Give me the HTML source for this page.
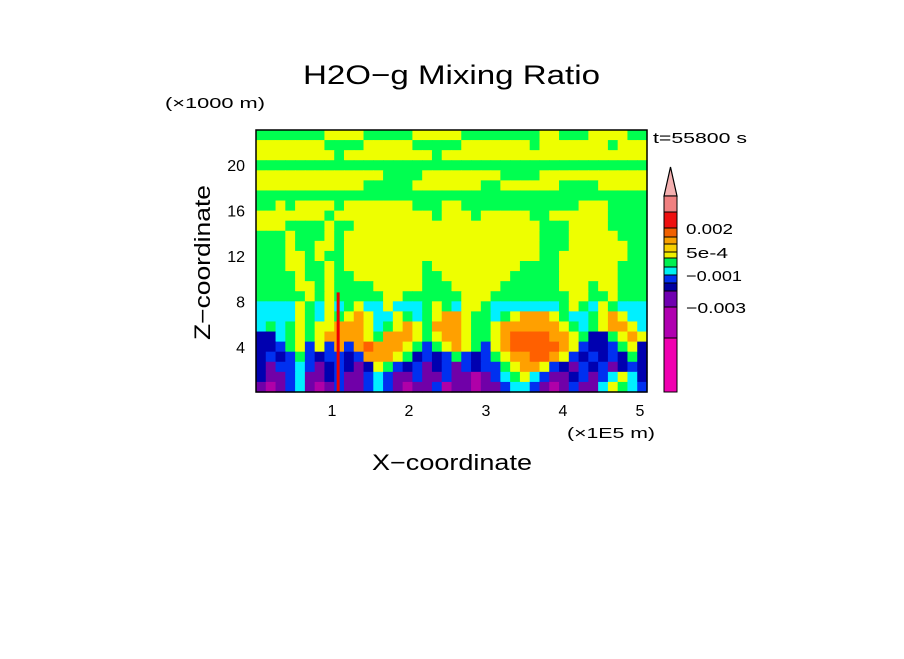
<!DOCTYPE html>
<html><head><meta charset="utf-8"><style>
body{margin:0;background:#fff;width:904px;height:654px;overflow:hidden;font-family:"Liberation Sans",sans-serif}
svg text{font-family:"Liberation Sans",sans-serif;fill:#000}
</style></head><body>
<svg id="chart" width="904" height="654">
<text x="303" y="84" font-size="27" textLength="297" lengthAdjust="spacingAndGlyphs">H2O−g Mixing Ratio</text>
<text x="165" y="108" font-size="15" textLength="100" lengthAdjust="spacingAndGlyphs">(×1000 m)</text>
<text x="0" y="0" font-size="22" textLength="155" lengthAdjust="spacingAndGlyphs" transform="translate(210 340) rotate(-90)">Z−coordinate</text>
<text x="372" y="470" font-size="22" textLength="160" lengthAdjust="spacingAndGlyphs">X−coordinate</text>
<text x="567" y="438" font-size="15" textLength="88" lengthAdjust="spacingAndGlyphs">(×1E5 m)</text>
<text x="653" y="143" font-size="15" textLength="94" lengthAdjust="spacingAndGlyphs">t=55800 s</text>
<g id="field"></g>
<g id="xt"></g>
<g id="yt"></g>
<g id="cb"></g>
<rect x="256" y="130" width="391" height="262" fill="none" stroke="#000" stroke-width="1.5"/>
</svg>
<script>
const xTicks=[1,2,3,4,5];
const yTicks=[4,8,12,16,20];
const cbColors=["#f08080","#ee1010","#f06000","#f8a000","#f8d000","#f0f000","#00f050","#00f0f0","#0030f0","#0000a0","#7000b0","#b000b0","#f000b0"];
const cbBounds=[196,212,228,237,244,252,258,267,275,283,291,307,338,392];
const cbLabels=["0.002","5e-4","−0.001","−0.003"];
const cbLabelWidths=[47,42,56,60];
const cbLabelY=[228,252,275,307];
const redStreakX=[1.08];
const redStreakTop=[8.8];
const levelColors={G:"#00ff50",Y:"#eeff00",C:"#00f0ff",B:"#0030f0",D:"#0000b0",P:"#7000a8",M:"#b000a8",O:"#ffa000",R:"#ff6000",X:"#ee0000"};
const gridRows=[
"GGGGGGGYYYYGGGGGYYYYYGGGGGGGGYYGGGYYYYGG",
"YYYYYYYGGGGYYYYYGGGGGYYYYYYYGYYYYYYYGYYY",
"YYYYYYYYGYYYYYYYYYGYYYYYYYYYYYYYYYYYYYYY",
"GGGGGGGGGGGGGGGGGGGGGGGGGGGGGGGGGGGGGGGG",
"YYYYYYYYYYYYYGGGGYYYYYYYYGGGGYYYYYYYYYYY",
"YYYYYYYYYYYGGGGGYYYYYYYGGYYYYYYGGGGYYYYY",
"GGGGGGGGGGGGGGGGGGGGGGGGGGGGGGGGGGGGGGGG",
"GGYGYYYYGYYYYYYYGGGYYGGGGGGGGGGGGYYYGGGG",
"YYYYYYYGYYYYYYYYYYGYYYGYYYYYGGYYYYYYGGGG",
"YYYGGGGYGGYYYYYYYYYYYYYYYYYYYGGGYYYYGGGG",
"GGGYGGGYGYYYYYYYYYYYYYYYYYYYYGGGYYYYYGGG",
"GGGYGGYYGYYYYYYYYYYYYYYYYYYYYGGGYYYYYYGG",
"GGGYYGYGGYYYYYYYYYYYYYYYYYYYYGGYYYYYYYGG",
"GGGYYGGYGYYYYYYYYGYYYYYYYYYGGGGYYYYYYGGG",
"GGGGYGGYGGYYYYYYYGGYYYYYYYGGGGGYYYYYYGGG",
"GGGGYYGYGGGGYYYYYGGGYYYYYGGGGGGYYYGYYGGG",
"GGGGGYGYGGGGGYYGGGGGGYYYGGGGGGGGYYGGYGGG",
"CCCCYGCYCGYCCYCCCGYGCYYGCCCCCCCGYGCYGCCC",
"CCCCYGCYGYOYCCYGCGYOOYGGCGYOOOYGCCGYOYCC",
"CGCGYGYYOOOYCGYOYGOOOYGGYOOOOOOYGCGYOOYC",
"DDCGYGYOOOOYGOOOYGYOOYGGYORRRROOYGDDGYOY",
"DDBGYBYBOBOROOOYGBGYOYGBYORRRRROYBDDBGYD",
"DBDBGBDBBDBOOOYGDBDBGBDBGYOORROYBDBDBDGD",
"DPBBCBPDBDPDYGBDBPDBPBDBBGYOOYBDPBDBPDBD",
"DPPBCPPDBPPBCBPPBPPBPPMPBCGYCBPPDBPBCYCD",
"PMPBCPMPBPPBCBPMPPBMPPMPPBCCBPMPBPPCYGCB"
];
const NS="http://www.w3.org/2000/svg";
const X0=256,X1=647,Y0=130,Y1=392;
function sx(v){return 255+v*77;}
function sy(v){return 392.5-v*11.375;}
const field=document.getElementById('field');
const nr=gridRows.length,nc=gridRows[0].length;
const cw=(X1-X0)/nc,ch=(Y1-Y0)/nr;
for(let i=0;i<nr;i++){for(let j=0;j<nc;j++){
 const r=document.createElementNS(NS,'rect');
 r.setAttribute('x',(X0+j*cw).toFixed(2));r.setAttribute('y',(Y0+i*ch).toFixed(2));
 r.setAttribute('width',(cw+0.6).toFixed(2));r.setAttribute('height',(ch+0.6).toFixed(2));
 r.setAttribute('fill',levelColors[gridRows[i][j]]||"#00ff50");
 
 
 field.appendChild(r);}}
redStreakX.forEach((v,i)=>{
 const r=document.createElementNS(NS,'rect');
 r.setAttribute('x',sx(v)-1.5);r.setAttribute('y',sy(redStreakTop[i]));
 r.setAttribute('width',3);r.setAttribute('height',392-sy(redStreakTop[i]));
 r.setAttribute('fill','#ee0000');
 
 
 field.appendChild(r);});
const xt=document.getElementById('xt');
xTicks.forEach(v=>{const t=document.createElementNS(NS,'text');t.setAttribute('x',sx(v));t.setAttribute('y',416);t.setAttribute('font-size','16');t.setAttribute('text-anchor','middle');t.textContent=v;
 
 
 xt.appendChild(t);});
const yt=document.getElementById('yt');
yTicks.forEach(v=>{const t=document.createElementNS(NS,'text');t.setAttribute('x',245);t.setAttribute('y',sy(v)+6);t.setAttribute('font-size','16');t.setAttribute('text-anchor','end');t.textContent=v;
 
 
 yt.appendChild(t);});
const cb=document.getElementById('cb');
const tri=document.createElementNS(NS,'polygon');
tri.setAttribute('points','664,196 677,196 670.5,167');tri.setAttribute('fill','#f4b0b0');tri.setAttribute('stroke','#000');tri.setAttribute('stroke-width','1.2');


cb.appendChild(tri);
cbColors.forEach((c,i)=>{const r=document.createElementNS(NS,'rect');r.setAttribute('x',664);r.setAttribute('y',cbBounds[i]);r.setAttribute('width',13);r.setAttribute('height',cbBounds[i+1]-cbBounds[i]);r.setAttribute('fill',c);r.setAttribute('stroke','#000');r.setAttribute('stroke-width','1');
 
 
 cb.appendChild(r);});
cbLabels.forEach((l,i)=>{const t=document.createElementNS(NS,'text');t.setAttribute('x',686);t.setAttribute('y',cbLabelY[i]+6);t.setAttribute('font-size','15');t.setAttribute('textLength',cbLabelWidths[i]);t.setAttribute('lengthAdjust','spacingAndGlyphs');t.textContent=l;
 
 
 cb.appendChild(t);});
</script>
</body></html>
